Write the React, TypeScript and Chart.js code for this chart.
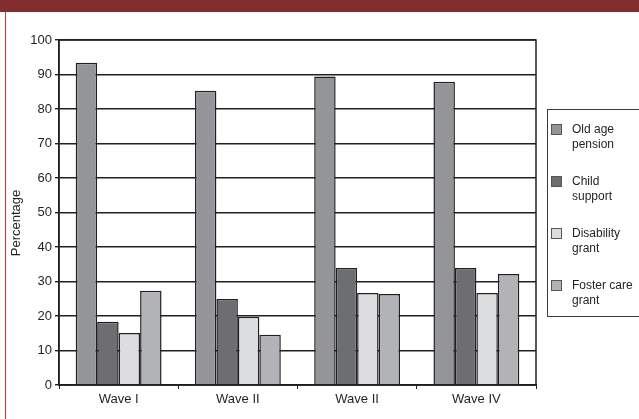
import React, { useEffect, useRef } from "react";
import { Chart, registerables } from "chart.js";

Chart.register(...registerables);

const categories = ["Wave I", "Wave II", "Wave II", "Wave IV"];
const seriesNames = ["Old age pension", "Child support", "Disability grant", "Foster care grant"];
const oldAgePension = [93.4, 85.3, 89.4, 87.9];
const childSupport = [18.3, 24.9, 33.9, 33.9];
const disabilityGrant = [15.1, 19.8, 26.7, 26.7];
const fosterCareGrant = [27.3, 14.6, 26.4, 32.2];
const yTicks = [0, 10, 20, 30, 40, 50, 60, 70, 80, 90, 100];
const yTitle = "Percentage";

const seriesValues = [oldAgePension, childSupport, disabilityGrant, fosterCareGrant];
const seriesColors = ["#939598", "#6d6e71", "#dcdddf", "#b1b3b6"];
const INK = "#231f20";
const FONT = "'Liberation Sans', Arial, Helvetica, sans-serif";

function wrap(ctx: CanvasRenderingContext2D, text: string, maxW: number): string[] {
  const words = text.split(" ");
  const lines: string[] = [];
  let cur = "";
  for (const w of words) {
    const t = cur ? cur + " " + w : w;
    if (cur && ctx.measureText(t).width > maxW) {
      lines.push(cur);
      cur = w;
    } else cur = t;
  }
  if (cur) lines.push(cur);
  return lines;
}

const decorPlugin = {
  id: "decor",
  beforeDraw(chart: any) {
    const ctx = chart.ctx as CanvasRenderingContext2D;
    ctx.save();
    ctx.fillStyle = "#ffffff";
    ctx.fillRect(0, 0, chart.width, chart.height);
    ctx.fillStyle = "#842d2e";
    ctx.fillRect(0, 0, chart.width, 12);
    ctx.strokeStyle = "#b54848";
    ctx.lineWidth = 1.2;
    ctx.beginPath();
    ctx.moveTo(5.5, 12);
    ctx.lineTo(5.5, chart.height);
    ctx.stroke();
    ctx.restore();
  },
  afterDraw(chart: any) {
    const ctx = chart.ctx as CanvasRenderingContext2D;
    const a = chart.chartArea;
    ctx.save();
    ctx.strokeStyle = INK;
    ctx.lineWidth = 1.5;
    ctx.strokeRect(a.left, a.top, a.right - a.left, a.bottom - a.top);
    ctx.fillStyle = INK;
    ctx.font = `13px ${FONT}`;
    ctx.textAlign = "center";
    ctx.textBaseline = "middle";
    ctx.translate(16, 223);
    ctx.rotate(-Math.PI / 2);
    ctx.fillText(yTitle, 0, 0);
    ctx.restore();

    ctx.save();
    ctx.strokeStyle = "#3a3a3a";
    ctx.lineWidth = 1;
    ctx.strokeRect(547.5, 109.5, 120, 207);
    ctx.font = `12px ${FONT}`;
    ctx.textBaseline = "middle";
    ctx.textAlign = "left";
    chart.data.datasets.forEach((ds: any, i: number) => {
      const y0 = 130 + i * 52;
      ctx.fillStyle = ds.backgroundColor;
      ctx.fillRect(551.5, y0 - 5.5, 10, 10);
      ctx.strokeStyle = "#555";
      ctx.strokeRect(551.5, y0 - 5.5, 10, 10);
      ctx.fillStyle = INK;
      const lines = wrap(ctx, ds.label, 66);
      lines.forEach((ln, k) => ctx.fillText(ln, 572, y0 + k * 15));
    });
    ctx.restore();
  },
};

export default function App() {
  const ref = useRef<HTMLCanvasElement>(null);
  useEffect(() => {
    document.body.style.margin = "0";
    const chart = new Chart(ref.current as HTMLCanvasElement, {
      type: "bar",
      data: {
        labels: categories,
        datasets: seriesNames.map((name, i) => ({
          label: name,
          data: seriesValues[i],
          backgroundColor: seriesColors[i],
          borderColor: INK,
          borderWidth: 1.5,
          categoryPercentage: 0.72,
          barPercentage: 1,
        })),
      },
      options: {
        animation: false,
        responsive: false,
        devicePixelRatio: 1,
        layout: { padding: { top: 40, right: 103, left: 0, bottom: 0 } },
        plugins: { legend: { display: false }, tooltip: { enabled: false } },
        scales: {
          x: {
            afterFit: (s: any) => { s.height = 34; },
            border: { color: INK, width: 1.5 },
            grid: { drawOnChartArea: false, offset: true, color: INK, tickLength: 4, lineWidth: 1 },
            ticks: { color: INK, font: { family: FONT, size: 13 }, padding: 3 },
          },
          y: {
            min: 0,
            max: 100,
            afterFit: (s: any) => { s.width = 59; },
            afterBuildTicks: (s: any) => { s.ticks = yTicks.map((v) => ({ value: v })); },
            border: { color: INK, width: 1.5 },
            grid: { color: INK, lineWidth: 1.4, tickLength: 4 },
            ticks: { color: INK, font: { family: FONT, size: 13 }, padding: 3 },
          },
        },
      },
      plugins: [decorPlugin],
    } as any);
    return () => chart.destroy();
  }, []);
  return (
    <div style={{ position: "absolute", left: 0, top: 0, width: 639, height: 419 }}>
      <canvas ref={ref} width={639} height={419} style={{ width: 639, height: 419, display: "block" }} />
    </div>
  );
}
